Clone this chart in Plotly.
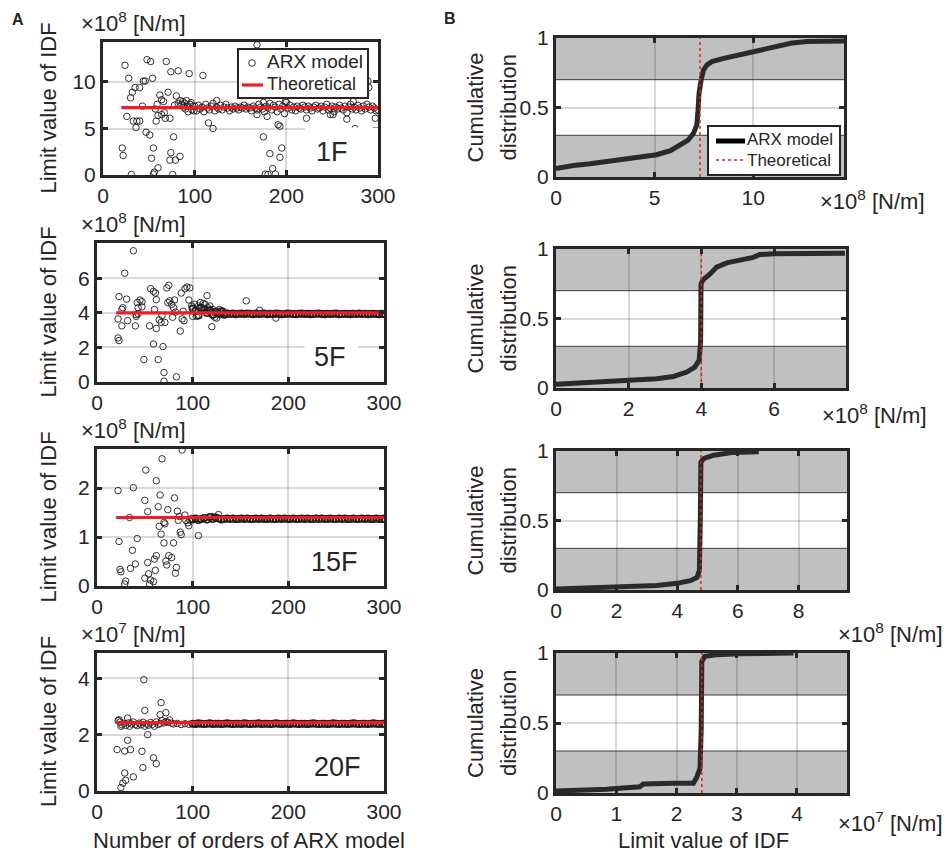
import plotly.graph_objects as go

W, H = 944, 856
FONT = "Liberation Sans, Arial, Helvetica, sans-serif"
INK = "#262626"

# ---------------- data ----------------
floor_labels = ["1F", "5F", "15F", "20F"]
order_min, order_max = 20, 300
theoretical_left = [7.25, 4.0, 1.40, 2.43]          # theoretical IDF limit values (left panels)
theoretical_right = [7.3, 4.0, 4.78, 2.42]          # theoretical values marked in the CDF panels
unit_exponent = [8, 8, 8, 7]

# 1F scattered estimates
orders_1F = [21, 22, 24, 26, 28, 30, 31, 32, 33, 35, 36, 37, 40, 40, 43, 44, 46, 47, 48, 51,
             52, 53, 54, 55, 55, 56, 57, 58, 59, 60, 60, 62, 64, 64, 66, 67, 68, 69, 71, 73,
             73, 74, 74, 76, 77, 78, 79, 80, 82, 82, 84, 84, 86, 87, 88, 89, 90, 91, 92, 93,
             94, 95, 96, 97, 98, 99, 109, 115, 120, 124, 168, 168, 175, 175, 177, 179, 180, 182, 185, 188,
             191, 193, 193, 195, 199, 222, 248, 251, 266, 273, 275, 278, 289, 290, 297]
idf_1F = [2.9, 2.1, 11.8, 6.3, 10.4, 8.3, 0.05, 8.9, 5.8, 9.4, 5.1, 5.8, 5.8, 9.4, 7.4, 10.1, 10.1, 4.6, 12.4, 4.3,
          12.2, 1.8, 10.4, 2.9, 0.1, 0.3, 7.1, 5.8, 7.6, 0.77, 6.4, 8.6, 8.1, 6.5, 7.9, 6.7, 6.1, 12.2, 8.9, 6.1,
          1.6, 11.1, 2.4, 0.05, 4.1, 7.5, 1.6, 8.5, 11.2, 7.7, 2.0, 8.0, 7.6, 7.9, 7.3, 7.7, 7.1, 8.0, 7.4, 6.8,
          10.9, 7.6, 7.8, 7.0, 7.4, 6.9, 10.7, 5.6, 5.0, 8.0, 14.0, 6.5, 4.1, 7.8, 0.1, 6.3, 0.05, 2.3, 0.7, 0.1,
          5.4, 5.25, 1.9, 2.9, 7.9, 6.1, 6.5, 6.5, 6.0, 7.9, 5.0, 1.8, 10.1, 9.4, 6.1]
orders_dense_1F = [100, 102, 104, 106, 108, 110, 112, 114, 116, 118, 120, 122, 124, 126, 128, 130, 132, 134, 136, 138,
                   140, 142, 144, 146, 148, 150, 152, 154, 156, 158, 160, 162, 164, 166, 168, 170, 172, 174, 176, 178,
                   180, 182, 184, 186, 188, 190, 192, 194, 196, 198, 200, 202, 204, 206, 208, 210, 212, 214, 216, 218,
                   220, 222, 224, 226, 228, 230, 232, 234, 236, 238, 240, 242, 244, 246, 248, 250, 252, 254, 256, 258,
                   260, 262, 264, 266, 268, 270, 272, 274, 276, 278, 280, 282, 284, 286, 288, 290, 292, 294, 296, 298, 300]
idf_dense_1F = [7.4, 6.9, 7.5, 7.1, 7.3, 6.8, 7.6, 7.2, 7.0, 7.4, 7.7, 6.9, 7.3, 7.1, 7.5, 7.0, 7.3, 7.6, 7.2, 6.9,
                7.3, 7.1, 7.4, 7.2, 7.0, 7.3, 7.2, 7.5, 7.1, 7.3, 7.2, 6.9, 7.4, 7.2, 7.0, 7.6, 7.3, 7.1, 6.8, 7.4,
                7.2, 7.7, 7.0, 7.5, 7.3, 6.8, 7.6, 7.1, 7.4, 6.6, 7.8, 7.2, 7.5, 7.0, 7.3, 6.9, 7.4, 7.2, 7.1, 7.5,
                7.3, 7.0, 7.4, 7.2, 6.9, 7.3, 7.5, 7.1, 7.2, 7.4, 6.9, 7.3, 7.6, 7.0, 7.2, 7.4, 6.8, 7.3, 7.1, 7.5,
                7.2, 7.0, 7.4, 6.7, 7.3, 7.6, 7.1, 7.3, 7.0, 7.5, 7.2, 6.9, 7.4, 7.1, 7.6, 7.3, 7.0, 7.4, 7.2, 6.9, 7.0]

# 5F
orders_5F = [22, 22, 23, 23, 26, 27, 26, 29, 31, 32, 38, 40, 41, 42, 43, 45, 47, 47, 49, 55,
             56, 59, 59, 60, 61, 62, 64, 65, 67, 68, 69, 70, 70, 71, 73, 74, 75, 76, 78, 79,
             80, 81, 82, 83, 87, 88, 89, 90, 91, 92, 94, 96, 97, 99, 100, 41, 43, 62,
             102, 104, 106, 107, 108, 110, 111, 113, 115, 116, 117, 118, 120, 121, 122, 123, 125, 126, 128, 129,
             130, 132, 134, 156, 170, 187]
idf_5F = [3.65, 2.55, 2.4, 4.95, 4.2, 4.3, 3.25, 6.3, 4.8, 3.55, 7.6, 3.25, 3.8, 4.6, 3.95, 4.75, 4.35, 4.65, 1.3, 3.25,
          5.4, 5.25, 2.2, 4.2, 5.15, 3.1, 1.3, 3.6, 3.45, 3.85, 2.05, 0.55, 0.05, 3.45, 5.45, 4.6, 5.6, 4.7, 4.5, 3.75,
          4.3, 4.75, 4.05, 0.3, 2.95, 5.15, 3.65, 4.1, 3.55, 5.4, 5.5, 4.75, 5.45, 4.4, 3.8, 3.9, 4.3, 4.77,
          4.5, 3.8, 4.4, 4.3, 4.6, 4.2, 4.55, 4.5, 5.0, 4.3, 4.1, 4.4, 3.2, 4.2, 3.9, 3.75, 3.7, 4.1, 4.2, 3.9,
          4.0, 4.1, 3.95, 4.7, 4.15, 3.7]

# 15F
orders_15F = [22, 23, 24, 25, 29, 30, 34, 35, 37, 38, 40, 42, 50, 50, 51, 53, 53, 54, 55, 56,
              59, 60, 61, 62, 62, 64, 65, 66, 67, 68, 70, 70, 71, 72, 73, 74, 75, 78, 80, 81,
              82, 83, 84, 85, 86, 87, 88, 89, 92, 93, 95, 96, 106, 97, 99, 120, 127]
idf_15F = [1.95, 0.91, 0.34, 0.29, 0.04, 0.1, 1.4, 0.36, 0.73, 2.01, 0.45, 0.97, 1.75, 0.16, 2.37, 1.52, 0.48, 0.25, 0.04, 0.12,
           0.09, 0.55, 0.32, 2.15, 0.62, 1.62, 1.22, 1.86, 1.06, 2.6, 0.88, 1.3, 1.27, 0.51, 0.43, 1.56, 0.62, 0.58, 0.88, 1.8,
           0.26, 0.38, 1.53, 1.34, 1.42, 1.1, 1.05, 2.78, 1.45, 1.34, 1.29, 1.23, 1.03, 1.35, 1.38, 1.42, 1.46]

# 20F
orders_20F = [21, 22, 23, 24, 25, 25, 27, 29, 29, 30, 32, 32, 35, 38, 47, 48, 49, 50, 53, 59,
              62, 66, 67, 72, 26, 28, 30, 33, 34, 36, 38, 40, 42, 44, 46, 48, 50, 52, 54, 56,
              58, 60, 62, 64, 66, 68, 70, 72, 74, 76, 78, 80, 84, 88, 92, 96]
idf_20F = [1.47, 2.5, 2.53, 2.45, 2.3, 0.12, 0.28, 1.42, 0.64, 0.38, 1.8, 2.59, 1.47, 0.5, 1.41, 0.83, 3.95, 2.86, 2.0, 1.18,
           0.97, 2.71, 3.14, 2.78, 2.35, 2.4, 2.33, 2.42, 2.3, 2.38, 2.45, 2.36, 2.32, 2.41, 2.35, 2.44, 2.3, 2.38, 2.34, 2.43,
           2.37, 2.3, 2.45, 2.36, 2.4, 2.5, 2.42, 2.46, 2.44, 2.52, 2.41, 2.38, 2.4, 2.36, 2.39, 2.37]

# converged tail (orders 100..300)
orders_tail = [100, 103, 106, 109, 112, 115, 118, 121, 124, 127, 130, 133, 136, 139, 142, 145, 148, 151, 154, 157,
               160, 163, 166, 169, 172, 175, 178, 181, 184, 187, 190, 193, 196, 199, 202, 205, 208, 211, 214, 217,
               220, 223, 226, 229, 232, 235, 238, 241, 244, 247, 250, 253, 256, 259, 262, 265, 268, 271, 274, 277,
               280, 283, 286, 289, 292, 295, 298, 300]
tail_5F = [4.25, 4.1, 3.85, 4.3, 4.2, 4.0, 4.15, 3.9, 4.05, 3.95, 4.1, 3.9, 3.96, 3.94, 3.97, 3.93, 3.95, 3.96, 3.94, 3.97,
           3.95, 3.93, 3.96, 3.94, 3.95, 3.97, 3.93, 3.95, 3.94, 3.96, 3.95, 3.93, 3.94, 3.96, 3.95, 3.94, 3.93, 3.95, 3.96, 3.94,
           3.95, 3.93, 3.94, 3.95, 3.96, 3.94, 3.93, 3.95, 3.94, 3.95, 3.96, 3.93, 3.94, 3.95, 3.94, 3.93, 3.95, 3.94, 3.96, 3.94,
           3.95, 3.93, 3.94, 3.95, 3.94, 3.93, 3.95, 3.94]
tail_15F = [1.36, 1.38, 1.35, 1.37, 1.39, 1.36, 1.41, 1.37, 1.40, 1.38, 1.36, 1.37, 1.38, 1.37, 1.38, 1.37, 1.37, 1.38, 1.37, 1.38,
            1.37, 1.37, 1.38, 1.37, 1.38, 1.37, 1.37, 1.38, 1.37, 1.37, 1.38, 1.37, 1.38, 1.37, 1.37, 1.38, 1.37, 1.37, 1.38, 1.37,
            1.38, 1.37, 1.37, 1.38, 1.37, 1.38, 1.37, 1.37, 1.38, 1.37, 1.37, 1.38, 1.37, 1.38, 1.37, 1.37, 1.38, 1.37, 1.37, 1.38,
            1.37, 1.38, 1.37, 1.37, 1.38, 1.37, 1.37, 1.38]
tail_20F = [2.39, 2.38, 2.40, 2.39, 2.38, 2.39, 2.40, 2.38, 2.39, 2.39, 2.38, 2.39, 2.40, 2.39, 2.38, 2.39, 2.39, 2.38, 2.40, 2.39,
            2.38, 2.39, 2.39, 2.40, 2.38, 2.39, 2.39, 2.38, 2.39, 2.40, 2.39, 2.38, 2.39, 2.39, 2.38, 2.40, 2.39, 2.38, 2.39, 2.39,
            2.38, 2.39, 2.40, 2.39, 2.38, 2.39, 2.39, 2.38, 2.39, 2.40, 2.39, 2.38, 2.39, 2.39, 2.38, 2.39, 2.40, 2.39, 2.38, 2.39,
            2.39, 2.38, 2.39, 2.40, 2.39, 2.38, 2.39, 2.39]

# cumulative distributions (right panels)
cdf_x_1F = [0, 0.88, 1.73, 2.9, 4.26, 5.1, 5.8, 6.3, 6.7, 6.97, 7.14, 7.2, 7.25, 7.36, 7.48, 7.65, 7.9, 8.5,
            9.34, 10.2, 11.03, 11.9, 12.7, 14.6]
cdf_y_1F = [0.06, 0.083, 0.095, 0.12, 0.14, 0.16, 0.19, 0.23, 0.266, 0.314, 0.374, 0.48, 0.6, 0.7, 0.77, 0.806, 0.83,
            0.853, 0.88, 0.914, 0.94, 0.962, 0.974, 0.978]
cdf_x_5F = [0, 0.94, 2.02, 2.77, 3.23, 3.6, 3.82, 3.94, 3.98, 3.99, 4.05, 4.24, 4.42, 4.7, 5.06, 5.43, 5.61, 6.0, 7.95]
cdf_y_5F = [0.027, 0.04, 0.055, 0.067, 0.083, 0.115, 0.15, 0.2, 0.34, 0.75, 0.78, 0.82, 0.87, 0.9, 0.92, 0.94, 0.96, 0.965, 0.97]
cdf_x_15F = [0, 1.67, 3.33, 3.99, 4.43, 4.65, 4.73, 4.76, 4.78, 4.87, 5.2, 5.86, 6.69]
cdf_y_15F = [0.008, 0.02, 0.032, 0.048, 0.067, 0.09, 0.14, 0.5, 0.92, 0.945, 0.97, 0.99, 0.995]
cdf_x_20F = [0, 0.84, 1.39, 1.45, 1.95, 2.28, 2.34, 2.39, 2.41, 2.42, 2.47, 2.66, 3.05, 3.94]
cdf_y_20F = [0.014, 0.026, 0.045, 0.064, 0.069, 0.069, 0.117, 0.176, 0.45, 0.94, 0.976, 0.988, 0.995, 1.0]

band_low = [0, 0.3]
band_high = [0.7, 1.0]

left_x_ticks = [0, 100, 200, 300]
left_y_ranges = [[0, 14.3], [0, 8.05], [0, 2.8], [0, 4.9]]
left_y_ticks = [[0, 5, 10], [0, 2, 4, 6], [0, 1, 2], [0, 2, 4]]
right_x_ranges = [[0, 14.6], [0, 7.98], [0, 9.6], [0, 4.83]]
right_x_ticks = [[0, 5, 10], [0, 2, 4, 6], [0, 2, 4, 6, 8], [0, 1, 2, 3, 4]]
right_y_ticks = [0, 0.5, 1]
right_y_ticktext = ["0", "0.5", "1"]

legend_names = ["ARX model", "Theoretical"]

# ---------------- layout geometry (pixels) ----------------
left_boxes = [(103, 378, 42, 175), (97, 384, 243, 382), (97, 384, 449, 586), (97, 384, 653, 791)]
right_boxes = [(556, 844, 38, 177), (556, 846, 249, 388), (556, 847, 451, 590), (556, 847, 653, 793)]

left_scatter = [
    (orders_1F, idf_1F, orders_dense_1F, idf_dense_1F),
    (orders_5F, idf_5F, orders_tail, tail_5F),
    (orders_15F, idf_15F, orders_tail, tail_15F),
    (orders_20F, idf_20F, orders_tail, tail_20F),
]
right_cdf = [(cdf_x_1F, cdf_y_1F), (cdf_x_5F, cdf_y_5F), (cdf_x_15F, cdf_y_15F), (cdf_x_20F, cdf_y_20F)]

RED = "#ee1c24"
ARX_MARK = "#1e1e1e"
ARX_LINE = "#2a2a2a"


def axref(i):
    return ("x" if i == 1 else f"x{i}"), ("y" if i == 1 else f"y{i}")


def axkey(i):
    return ("xaxis" if i == 1 else f"xaxis{i}"), ("yaxis" if i == 1 else f"yaxis{i}")


def axis_style(**kw):
    d = dict(showline=True, linewidth=3, linecolor=INK, mirror="allticks",
             ticks="inside", ticklen=5, tickwidth=2.5, tickcolor=INK,
             showgrid=True, gridcolor="rgba(0,0,0,0.15)", gridwidth=2,
             zeroline=False, automargin=False, fixedrange=True,
             tickfont=dict(size=21, color=INK, family=FONT))
    d.update(kw)
    return d


fig = go.Figure()
layout = {}
shapes = []
annotations = []


def px2x(v):
    return v / W


def px2y(v):
    return 1 - v / H


def ann(text, xpx, ypx, size=22, family=FONT, **kw):
    a = dict(text=text, x=px2x(xpx), y=px2y(ypx), xref="paper", yref="paper",
             showarrow=False, font=dict(size=size, color=INK, family=family))
    a.update(kw)
    annotations.append(a)


# left column
for r in range(4):
    i = r + 1
    xr, yr = axref(i)
    xk, yk = axkey(i)
    x0, x1, y0, y1 = left_boxes[r]
    layout[xk] = axis_style(domain=[x0 / W, x1 / W], range=[0, 300], tickvals=left_x_ticks, anchor=yr)
    layout[yk] = axis_style(domain=[1 - y1 / H, 1 - y0 / H], range=left_y_ranges[r],
                            tickvals=left_y_ticks[r], anchor=xr)
    xs, ys, xt, yt = left_scatter[r]
    fig.add_trace(go.Scatter(
        x=xs, y=ys, mode="markers", name=legend_names[0], xaxis=xr, yaxis=yr,
        marker=dict(symbol="circle-open", size=6.5, color=ARX_MARK, line=dict(width=0.9)),
        showlegend=False))
    fig.add_trace(go.Scatter(
        x=xt, y=yt, mode="markers", name=legend_names[0], xaxis=xr, yaxis=yr,
        marker=dict(symbol="circle-open", size=6.5, color=ARX_MARK,
                    line=dict(width=0.9 if r == 0 else 1.6)),
        showlegend=False))
    fig.add_trace(go.Scatter(
        x=[order_min, order_max], y=[theoretical_left[r], theoretical_left[r]],
        mode="lines", name=legend_names[1], xaxis=xr, yaxis=yr,
        line=dict(color=RED, width=3.2), showlegend=False))
    ann(f"×10<sup>{unit_exponent[r]}</sup> [N/m]", 79, y0 - 20, size=22, xanchor="left", yanchor="middle")
    ann("Limit value of IDF", 48, (y0 + y1) / 2, size=22, textangle=-90, xanchor="center", yanchor="middle")

# right column
for r in range(4):
    i = r + 5
    xr, yr = axref(i)
    xk, yk = axkey(i)
    x0, x1, y0, y1 = right_boxes[r]
    layout[xk] = axis_style(domain=[x0 / W, x1 / W], range=right_x_ranges[r],
                            tickvals=right_x_ticks[r], anchor=yr)
    layout[yk] = axis_style(domain=[1 - y1 / H, 1 - y0 / H], range=[0, 1],
                            tickvals=right_y_ticks, ticktext=right_y_ticktext, anchor=xr)
    for lo, hi in (band_low, band_high):
        shapes.append(dict(type="rect", xref=f"{xr} domain", yref=yr, x0=0, x1=1, y0=lo, y1=hi,
                           fillcolor="#c0c0c0", line=dict(width=0), layer="below"))
    for yv in (band_low[1], band_high[0]):
        shapes.append(dict(type="line", xref=f"{xr} domain", yref=yr, x0=0, x1=1, y0=yv, y1=yv,
                           line=dict(color="#3c3c3c", width=1), layer="below"))
    cx, cy = right_cdf[r]
    fig.add_trace(go.Scatter(
        x=cx, y=cy, mode="lines", name=legend_names[0], xaxis=xr, yaxis=yr,
        line=dict(color=ARX_LINE, width=5), showlegend=False))
    fig.add_trace(go.Scatter(
        x=[theoretical_right[r], theoretical_right[r]], y=[0, 1], mode="lines", name=legend_names[1],
        xaxis=xr, yaxis=yr, line=dict(color=RED, width=1.5, dash="dot"), showlegend=False))
    ann("Cumulative", 475, (y0 + y1) / 2, size=22, textangle=-90, xanchor="center", yanchor="middle")
    ann("distribution", 508, (y0 + y1) / 2, size=22, textangle=-90, xanchor="center", yanchor="middle")

# unit labels of the right x axes
for (xpx, ypx), e in zip([(818, 200), (820, 414), (836, 633), (836, 822)], unit_exponent):
    ann(f"×10<sup>{e}</sup> [N/m]", xpx, ypx, size=22, xanchor="left", yanchor="middle")

# white boxes behind floor labels
shapes.append(dict(type="rect", xref="x", yref="y", x0=220, x1=300, y0=0, y1=5.12,
                   fillcolor="white", line=dict(width=0), layer="above"))
shapes.append(dict(type="rect", xref="x2", yref="y2", x0=217, x1=273, y0=0.25, y1=2.3,
                   fillcolor="white", line=dict(width=0), layer="above"))

for lab, (xpx, ypx) in zip(floor_labels, [(332, 152), (330, 357), (334, 562), (337, 767)]):
    ann(lab, xpx, ypx, size=27, xanchor="center", yanchor="middle")

ann("Number of orders of ARX model", 249, 840, size=22, xanchor="center", yanchor="middle")
ann("Limit value of IDF", 703, 840, size=22, xanchor="center", yanchor="middle")
ann("<b>A</b>", 18, 20, size=16, xanchor="center", yanchor="middle")
ann("<b>B</b>", 450, 19, size=16, xanchor="center", yanchor="middle")


# ---- legends drawn as boxes (paper coordinates, pixel geometry) ----
def legend_box(x0, x1, y0, y1):
    shapes.append(dict(type="rect", xref="paper", yref="paper", x0=px2x(x0), x1=px2x(x1),
                       y0=px2y(y1), y1=px2y(y0), fillcolor="white",
                       line=dict(color=INK, width=2), layer="above"))


# left legend (panel A, 1F)
legend_box(238, 368, 49, 98)
shapes.append(dict(type="circle", xref="paper", yref="paper", xsizemode="pixel", ysizemode="pixel",
                   xanchor=px2x(252), yanchor=px2y(63), x0=-3.3, x1=3.3, y0=-3.3, y1=3.3,
                   line=dict(color=ARX_MARK, width=0.9), fillcolor="rgba(0,0,0,0)", layer="above"))
shapes.append(dict(type="line", xref="paper", yref="paper", x0=px2x(242), x1=px2x(263),
                   y0=px2y(85), y1=px2y(85), line=dict(color=RED, width=3.2), layer="above"))
ann(legend_names[0], 265, 62, size=19, xanchor="left", yanchor="middle")
ann(legend_names[1], 265, 84, size=18, xanchor="left", yanchor="middle")

# right legend (panel B, 1F)
legend_box(708, 840, 126, 175)
shapes.append(dict(type="line", xref="paper", yref="paper", x0=px2x(716), x1=px2x(745),
                   y0=px2y(141), y1=px2y(141), line=dict(color="#000000", width=5), layer="above"))
shapes.append(dict(type="line", xref="paper", yref="paper", x0=px2x(716), x1=px2x(743),
                   y0=px2y(160), y1=px2y(160), line=dict(color=RED, width=1.5, dash="dot"), layer="above"))
ann(legend_names[0], 745, 140, size=17, xanchor="left", yanchor="middle")
ann(legend_names[1], 745, 160, size=17, xanchor="left", yanchor="middle")

fig.update_layout(
    width=W, height=H, autosize=False,
    margin=dict(l=0, r=0, t=0, b=0),
    paper_bgcolor="white", plot_bgcolor="white",
    font=dict(family=FONT, color=INK),
    showlegend=False,
    shapes=shapes, annotations=annotations,
    **layout,
)

fig.write_html(
    "out.html",
    config={"displayModeBar": False},
    post_script="document.body.style.margin='0px';document.body.style.padding='0px';"
                "document.body.style.overflow='hidden';document.documentElement.style.overflow='hidden';",
)
